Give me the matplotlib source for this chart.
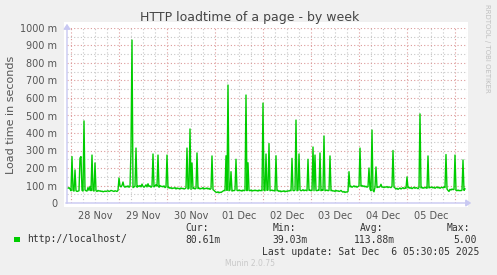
import datetime

import matplotlib

matplotlib.use("Agg")
import matplotlib.dates as mdates
import matplotlib.pyplot as plt
from matplotlib.patches import FancyArrowPatch, Rectangle
from matplotlib.ticker import MultipleLocator

# 30-minute samples, milliseconds
start = datetime.datetime(2025, 11, 27, 22, 0)
loadtime_ms = [
    86, 84, 88, 80, 70, 265, 72, 68, 189, 70, 66, 68, 70, 257, 265, 72, 68, 469, 74, 70,
    68, 88, 72, 95, 70, 274, 72, 68, 229, 70, 66, 72, 68, 70, 66, 68, 64, 66, 68, 66,
    68, 70, 66, 68, 72, 70, 68, 66, 70, 68, 66, 72, 143, 98, 92, 100, 120, 95, 90, 96,
    92, 98, 90, 95, 303, 931, 88, 92, 96, 314, 90, 98, 94, 100, 92, 108, 95, 90, 96, 104,
    92, 110, 94, 98, 90, 95, 280, 92, 98, 105, 96, 274, 90, 100, 94, 96, 92, 98, 88, 92,
    274, 86, 90, 84, 88, 82, 86, 84, 88, 80, 86, 82, 84, 80, 86, 82, 84, 80, 82, 86,
    314, 80, 84, 423, 78, 229, 82, 86, 80, 84, 286, 82, 86, 80, 84, 82, 88, 80, 84, 82,
    86, 80, 84, 78, 82, 269, 76, 72, 66, 62, 60, 64, 58, 62, 60, 64, 68, 72, 70, 270,
    72, 674, 70, 74, 179, 68, 72, 70, 74, 250, 72, 70, 74, 70, 72, 68, 74, 70, 72, 617,
    70, 230, 72, 70, 74, 68, 72, 70, 74, 70, 72, 68, 74, 70, 72, 70, 571, 72, 70, 280,
    72, 74, 340, 70, 72, 74, 70, 72, 68, 270, 70, 72, 66, 70, 64, 68, 66, 70, 64, 68,
    66, 70, 68, 72, 70, 255, 72, 70, 74, 474, 70, 72, 280, 74, 70, 72, 76, 70, 74, 72,
    70, 250, 72, 74, 70, 72, 320, 70, 274, 72, 70, 74, 72, 286, 70, 74, 72, 383, 70, 72,
    74, 70, 72, 269, 70, 72, 68, 70, 66, 72, 68, 70, 66, 68, 72, 66, 62, 66, 60, 64,
    62, 66, 179, 92, 96, 90, 94, 98, 92, 96, 90, 94, 98, 314, 96, 100, 94, 98, 92, 96,
    90, 94, 200, 80, 70, 417, 72, 64, 90, 206, 88, 92, 90, 94, 107, 90, 92, 88, 92, 90,
    94, 88, 92, 90, 88, 94, 300, 90, 86, 80, 84, 78, 82, 86, 80, 84, 88, 82, 86, 84,
    149, 86, 90, 84, 88, 82, 86, 90, 84, 88, 86, 82, 88, 509, 86, 90, 84, 88, 86, 90,
    84, 269, 86, 90, 88, 92, 86, 90, 84, 88, 92, 86, 90, 84, 88, 90, 86, 92, 88, 277,
    80, 72, 66, 78, 74, 80, 76, 78, 274, 72, 70, 74, 70, 72, 70, 74, 246, 72, 80.61,
]
times = [start + datetime.timedelta(minutes=30 * i) for i in range(len(loadtime_ms))]
day_labels = ["28 Nov", "29 Nov", "30 Nov", "01 Dec", "02 Dec", "03 Dec", "04 Dec", "05 Dec"]
y_ticks = [0, 100, 200, 300, 400, 500, 600, 700, 800, 900, 1000]

legend_label = "http://localhost/"
stats = [("Cur:", "80.61m"), ("Min:", "39.03m"), ("Avg:", "113.88m"), ("Max:", "5.00")]
last_update = "Last update: Sat Dec  6 05:30:05 2025"

W, H = 497, 275
fig = plt.figure(figsize=(W / 100, H / 100), dpi=100, facecolor="#f0f0f0")


def fx(px):
    return px / W


def fy(py):
    return 1 - py / H


# white canvas slightly larger than the data area
fig.patches.append(Rectangle((fx(64), fy(207)), 404 / W, 185 / H,
                             transform=fig.transFigure, facecolor="white",
                             edgecolor="none", zorder=-10))

ax = fig.add_axes([fx(67), fy(203), 400 / W, 175 / H])
ax.patch.set_alpha(0)

ax.plot(times, loadtime_ms, color="#00cc00", lw=1.0, zorder=3)

ax.set_xlim(start, start + datetime.timedelta(hours=200))
ax.set_ylim(0, 1000)

# grid: red at days / 100 m, grey at 6 h / 50 m
ax.xaxis.set_major_locator(mdates.DayLocator())
ax.xaxis.set_minor_locator(mdates.HourLocator(byhour=[6, 12, 18]))
ax.set_yticks(y_ticks)
ax.yaxis.set_minor_locator(MultipleLocator(50))
ax.grid(which="major", color="#dd9a9a", lw=0.8, ls=(0, (1, 2)))
ax.grid(which="minor", color="#c6c6c6", lw=0.8, ls=(0, (1, 2)))
ax.set_axisbelow(True)

ax.set_xticklabels([])
ax.set_yticklabels([f"{v} m" if v else "0" for v in y_ticks], fontsize=7, color="#555555")
ax.tick_params(which="both", length=0, pad=7)
for s in ax.spines.values():
    s.set_visible(False)

for d, lab in enumerate(day_labels):
    noon = datetime.datetime(2025, 11, 28, 12) + datetime.timedelta(days=d)
    ax.text(noon, -0.045, lab, transform=ax.get_xaxis_transform(), ha="center",
            va="top", fontsize=7, color="#555555")

# axis arrows
axis_col = "#c8c8f2"
fig.add_artist(FancyArrowPatch(
    (fx(67), fy(206)), (fx(67), fy(21)), transform=fig.transFigure,
    arrowstyle="-|>,head_length=3,head_width=2", color=axis_col, lw=1, mutation_scale=1))
fig.add_artist(FancyArrowPatch(
    (fx(63), fy(203)), (fx(474), fy(203)), transform=fig.transFigure,
    arrowstyle="-|>,head_length=3,head_width=2", color=axis_col, lw=1, mutation_scale=1))

fig.text(fx(250), fy(18), "HTTP loadtime of a page - by week", ha="center", va="center",
         fontsize=9, color="#444444")
fig.text(fx(11), fy(115), "Load time in seconds", rotation=90, ha="center", va="center",
         fontsize=8, color="#555555")
fig.text(fx(487), fy(4), "RRDTOOL / TOBI OETIKER", rotation=270, ha="center", va="top",
         fontsize=5, color="#c0c0c0")

# legend block
mono = "DejaVu Sans Mono"
fig.patches.append(Rectangle((fx(14), fy(242)), 5.5 / W, 5.5 / H, transform=fig.transFigure,
                             facecolor="#00cc00", edgecolor="none"))
fig.text(fx(27), fy(239.5), legend_label, family=mono, fontsize=7, color="#333333", va="center")
stat_x = [(185.7, 185.7), (272.7, 272.7), (360, 354.3), (446.7, 453.3)]
for (name, val), (xn, xv) in zip(stats, stat_x):
    fig.text(fx(xn), fy(228), name, family=mono, fontsize=7, color="#333333", va="center")
    fig.text(fx(xv), fy(240), val, family=mono, fontsize=7, color="#333333", va="center")
fig.text(fx(262), fy(252), last_update, family=mono, fontsize=7, color="#333333", va="center")
fig.text(fx(250), fy(264), "Munin 2.0.75", ha="center", va="center", fontsize=5.5,
         color="#c8c8c8")

fig.savefig("out.png", dpi=100, facecolor=fig.get_facecolor())
